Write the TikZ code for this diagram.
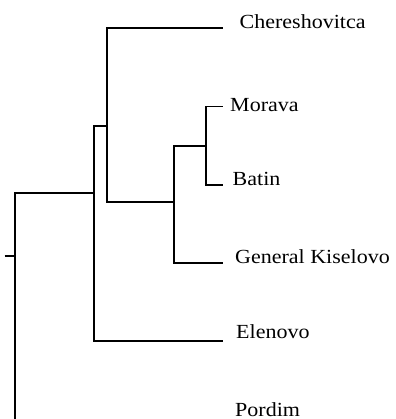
\documentclass[tikz,border=0pt]{standalone}
\usepackage{fontspec}
\setmainfont{Liberation Serif}[FakeStretch=1.1]
\begin{document}
\begin{tikzpicture}[x=1pt,y=1pt,
  branch/.style={line width=1.8pt,line join=miter,black},
  leaflabel/.style={anchor=base west,inner sep=0pt,font=\fontsize{20}{24}\selectfont}]
\useasboundingbox (0,0) rectangle (395,419);
\clip (0,0) rectangle (395,419);
% leaf ends
\coordinate (lC) at (223,390.7);
\coordinate (lM) at (223,312.5);
\coordinate (lB) at (223,234);
\coordinate (lG) at (223,156);
\coordinate (lE) at (223,78);
\coordinate (lP) at (223,-0.5);
% internal joints
\coordinate (v5) at (206.3,273.3);
\coordinate (v4) at (174,216.7);
\coordinate (v3) at (107,292.7);
\coordinate (v2) at (94,226.3);
\coordinate (v1) at (15,163.3);
\coordinate (root) at (4.7,163.3);
% branches
\draw[branch] (v5) |- (lM);
\draw[branch] (v5) |- (lB);
\draw[branch] (v4) |- (v5);
\draw[branch] (v4) |- (lG);
\draw[branch] (v3) |- (lC);
\draw[branch] (v3) |- (v4);
\draw[branch] (v2) |- (v3);
\draw[branch] (v2) |- (lE);
\draw[branch] (v1) |- (v2);
\draw[branch] (v1) |- (lP);
\draw[branch] (root) -- (v1);
% labels
\node[leaflabel] (tC) at (239.5,390.7) {Chereshovitca};
\node[leaflabel] (tM) at (230,307.3) {Morava};
\node[leaflabel] (tB) at (232.5,233) {Batin};
\node[leaflabel] (tG) at (235,155) {General Kiselovo};
\node[leaflabel] (tE) at (236,80.7) {Elenovo};
\node[leaflabel] (tP) at (235,2.3) {Pordim};
\end{tikzpicture}
\end{document}
